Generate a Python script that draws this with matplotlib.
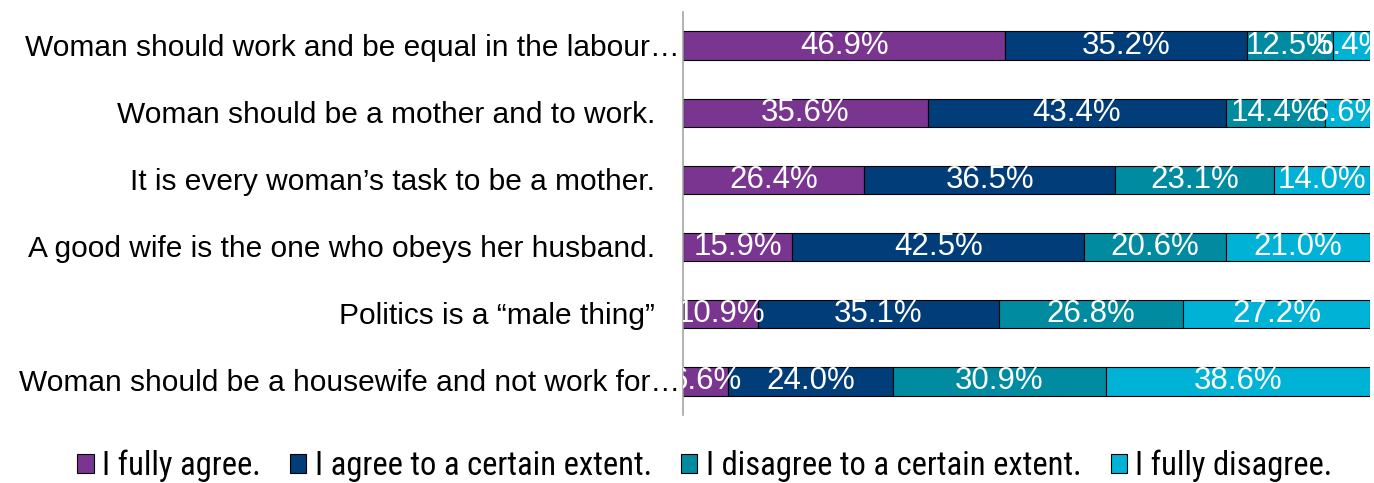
import numpy as np
import matplotlib.pyplot as plt
from matplotlib.transforms import blended_transform_factory, ScaledTranslation

categories = [
    "Woman should work and be equal in the labour…",
    "Woman should be a mother and to work.",
    "It is every woman’s task to be a mother.",
    "A good wife is the one who obeys her husband.",
    "Politics is a “male thing”",
    "Woman should be a housewife and not work for…",
]
series_names = [
    "I fully agree.",
    "I agree to a certain extent.",
    "I disagree to a certain extent.",
    "I fully disagree.",
]
fully_agree = [46.9, 35.6, 26.4, 15.9, 10.9, 6.6]
agree_some = [35.2, 43.4, 36.5, 42.5, 35.1, 24.0]
disagree_some = [12.5, 14.4, 23.1, 20.6, 26.8, 30.9]
fully_disagree = [5.4, 6.6, 14.0, 21.0, 27.2, 38.6]

colors = ["#7a3590", "#003d79", "#008ba0", "#00b3d6"]
narrow = ["Liberation Sans Narrow", "DejaVu Sans Condensed", "Roboto Condensed",
          "Open Sans Condensed", "Liberation Sans"]

fig = plt.figure(figsize=(13.74, 4.83), dpi=100)
ax = fig.add_axes([683 / 1374, 1 - 415 / 483, 687 / 1374, 403 / 483])

y = np.arange(len(categories))
left = np.zeros(len(categories))
for name, vals, c in zip(series_names,
                         [fully_agree, agree_some, disagree_some, fully_disagree],
                         colors):
    vals = np.array(vals)
    bars = ax.barh(y, vals, left=left, height=0.42, color=c,
                   edgecolor="black", linewidth=0.8, label=name)
    for b, v in zip(bars, vals):
        ax.text(b.get_x() + b.get_width() / 2, b.get_y() + b.get_height() / 2,
                f"{v:.1f}%", ha="center", va="center", color="white",
                fontsize=22.5, family="Liberation Sans", clip_on=True)
    left += vals

ax.set_xlim(0, 100)
ax.set_ylim(len(categories) - 0.5, -0.5)
ax.set_yticks([])
ax.set_xticks([])

# category labels; truncated ones sit a little closer to the axis
trans = blended_transform_factory(ax.transAxes, ax.transData)
for yi, lab in zip(y, categories):
    dx = -3 if lab.endswith("…") else -28
    ax.text(0, yi + 0.03, lab, ha="right", va="center", fontsize=21.5,
            family="Liberation Sans",
            transform=trans + ScaledTranslation(dx / 100, 0, fig.dpi_scale_trans))

for s in ["top", "right", "bottom"]:
    ax.spines[s].set_visible(False)
ax.spines["left"].set_color("#a6a6a6")
ax.spines["left"].set_linewidth(1.2)

fig.legend(loc="center", bbox_to_anchor=(0.513, 1 - 466 / 483), ncol=4,
           frameon=False, handlelength=0.5, handleheight=0.5,
           handletextpad=0.25, columnspacing=0.9,
           prop={"family": narrow, "size": 23.5})

fig.savefig("out.png", dpi=100)
